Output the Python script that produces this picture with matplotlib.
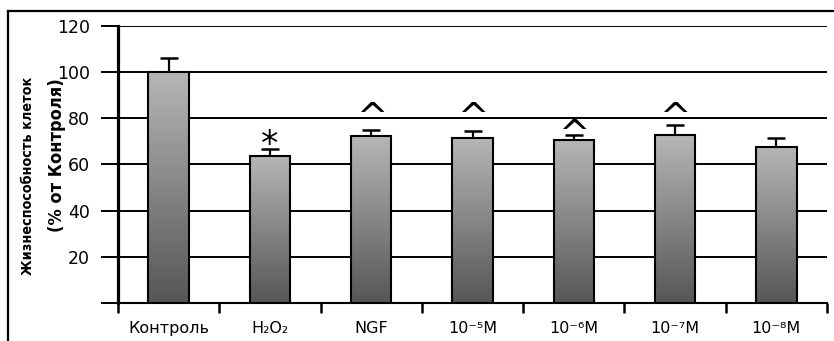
import numpy as np
import matplotlib.pyplot as plt
from matplotlib.colors import LinearSegmentedColormap
from matplotlib.lines import Line2D

groups = ['Контроль', 'H₂O₂', 'NGF', '10⁻⁵M', '10⁻⁶M', '10⁻⁷M', '10⁻⁸M']
viability = [100, 63.8, 72.3, 71.4, 70.7, 72.7, 67.7]
sem = [6.1, 2.9, 2.7, 3.1, 2.0, 4.5, 3.7]
marks = ['', '*', '^', '^', '^', '^', '']
mark_y = [0, 64, 75.2, 75.2, 68.2, 75.2, 0]

plt.rcParams['font.family'] = ['DejaVu Sans']

fig = plt.figure(figsize=(8.34, 3.41), dpi=100)
ax = fig.add_axes([0.1415, 0.1114, 0.8501, 0.8124])

x = np.arange(len(groups))
width = 0.4

# grid behind everything
ax.set_axisbelow(True)
ax.yaxis.grid(True, color='black', linewidth=1.4, zorder=0)

ax.errorbar(x, viability, yerr=sem, fmt='none', ecolor='black',
            elinewidth=1.6, capsize=6.5, capthick=1.8, zorder=2)

bars = ax.bar(x, viability, width=width, color='none', edgecolor='black',
              linewidth=1.5, zorder=4)

cmap = LinearSegmentedColormap.from_list('g', ['#565656', '#b6b6b6'])
grad = np.linspace(0, 1, 256).reshape(-1, 1)
for b in bars:
    x0 = b.get_x()
    im = ax.imshow(grad, extent=[x0, x0 + b.get_width(), 0, b.get_height()],
                   origin='lower', aspect='auto', cmap=cmap, zorder=3)
    im.set_clip_path(b)

for xi, m, my in zip(x, marks, mark_y):
    if m == '*':
        ax.text(xi, my, m, ha='center', va='baseline', fontsize=25, color='black')
    elif m:
        ax.text(xi, my, m, ha='center', va='baseline', fontsize=27, color='black')

ax.set_xlim(-0.5, len(groups) - 0.5)
ax.set_ylim(0, 120)

ax.set_yticks(np.arange(0, 121, 20))
ax.set_yticklabels([''] + [str(v) for v in range(20, 121, 20)])
ax.tick_params(axis='y', direction='out', length=12, width=1.4, pad=8,
               labelsize=12.5, colors='black')

ax.set_xticks(x)
ax.set_xticklabels(groups)
ax.set_xticks(np.arange(-0.5, len(groups)), minor=True)
ax.tick_params(axis='x', which='major', length=0, pad=13, labelsize=11.5)
ax.tick_params(axis='x', which='minor', direction='out', length=7, width=1.8)

for s in ['top', 'right']:
    ax.spines[s].set_visible(False)
ax.spines['left'].set_linewidth(2.3)
ax.spines['bottom'].set_linewidth(1.5)
ax.spines['left'].set_bounds(0, 120)

fig.text(28 / 834, 0.774, 'Жизнеспособность клеток', rotation=90,
         ha='center', va='top', fontsize=10.3, fontweight='bold',
         fontstretch='condensed', family='DejaVu Sans')
fig.text(57 / 834, 0.771, '(% от Контроля)', rotation=90,
         ha='center', va='top', fontsize=13, fontweight='bold',
         fontstretch='condensed', family='DejaVu Sans')

# frame around figure (top and left)
fig.add_artist(Line2D([0.009, 1.0], [0.9677, 0.9677], color='black', linewidth=1.6))
fig.add_artist(Line2D([0.009, 0.009], [0.0, 0.9677], color='black', linewidth=1.6))

fig.savefig('out.png', dpi=100)
